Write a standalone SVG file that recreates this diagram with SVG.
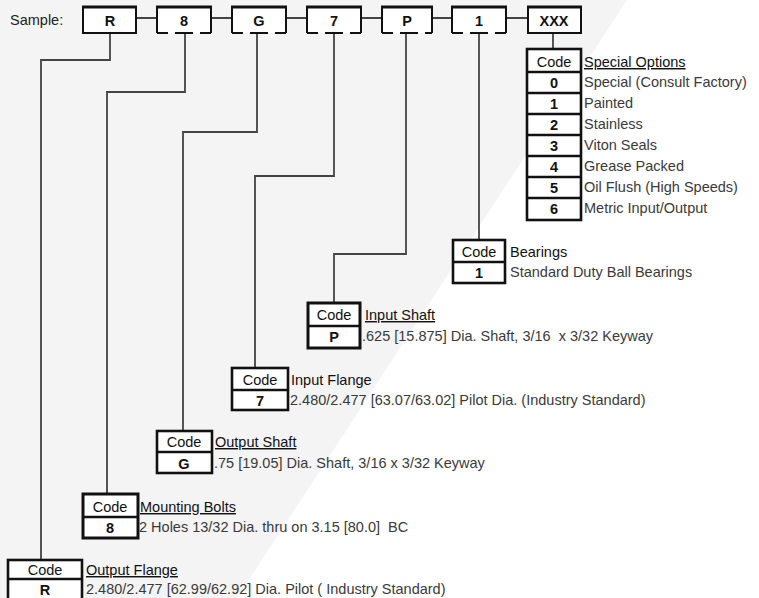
<svg xmlns="http://www.w3.org/2000/svg" width="759" height="598" viewBox="0 0 759 598">
<style>
.bg{fill:#f4f4f4}
.sb{fill:#fff;stroke:#111;stroke-width:2}
.tt{stroke:#111;stroke-width:3;fill:none}
.brk{stroke:#111;stroke-width:2;fill:none;stroke-dasharray:11 7 18 7 14}
.tb{fill:#fff;stroke:#111;stroke-width:2.6}
.dv{stroke:#111;stroke-width:2.6}
.cn{fill:none;stroke:#444;stroke-width:1.8}
text{font-family:"Liberation Sans",Arial,sans-serif;font-size:14.5px;fill:#3a3a3a;white-space:pre}
.k{fill:#111;font-weight:bold;font-size:14.5px;text-anchor:middle}
.c{fill:#111;font-size:14.5px;text-anchor:middle}
.h{fill:#111}
.u{fill:#111;text-decoration:underline}
</style>
<polygon class="bg" points="0,0 627,0 237,598 0,598"/>
<text x="10" y="25" style="fill:#222">Sample:</text>
<g id="connectors">
<path class="cn" d="M136,18H157M211,18H232M286,18H307M361,18H382M432,18H452M506,18H528"/>
<path class="cn" d="M110,33V60H41V560"/>
<path class="cn" d="M185,33V92H107V494"/>
<path class="cn" d="M257,33V132H183V431"/>
<path class="cn" d="M334,33V176H255V368"/>
<path class="cn" d="M406,33V254H334V303"/>
<path class="cn" d="M479,33V240"/>
<path class="cn" d="M553,33V49"/>
</g>
<g id="box-R"><rect class="sb" x="83" y="7" width="53" height="26"/><path class="tt" d="M82,7H137"/><text class="k" x="110" y="26">R</text></g>
<g id="box-8"><path class="sb" d="M157,33V7H211V33"/><path class="tt" d="M156,7H212"/><path class="brk" d="M157,33H211"/><text class="k" x="184" y="26">8</text></g>
<g id="box-G"><path class="sb" d="M232,33V7H286V33"/><path class="tt" d="M231,7H287"/><path class="brk" d="M232,33H286"/><text class="k" x="259" y="26">G</text></g>
<g id="box-7"><path class="sb" d="M307,33V7H361V33"/><path class="tt" d="M306,7H362"/><path class="brk" d="M307,33H361"/><text class="k" x="334" y="26">7</text></g>
<g id="box-P"><path class="sb" d="M382,33V7H432V33"/><path class="tt" d="M381,7H433"/><path class="brk" d="M382,33H432"/><text class="k" x="407" y="26">P</text></g>
<g id="box-1"><path class="sb" d="M452,33V7H506V33"/><path class="tt" d="M451,7H507"/><path class="brk" d="M452,33H506"/><text class="k" x="479" y="26">1</text></g>
<g id="box-XXX"><rect class="sb" x="528" y="7" width="53" height="26"/><path class="tt" d="M527,7H582"/><text class="k" x="554" y="26">XXX</text></g>

<g id="special-options">
<rect class="tb" x="527" y="49" width="54" height="171"/>
<path class="dv" d="M527,72H581M527,93H581M527,114H581M527,135H581M527,156H581M527,177H581M527,198H581"/>
<text class="c" x="554" y="67">Code</text>
<text class="k" x="554" y="88">0</text>
<text class="k" x="554" y="109">1</text>
<text class="k" x="554" y="130">2</text>
<text class="k" x="554" y="151">3</text>
<text class="k" x="554" y="172">4</text>
<text class="k" x="554" y="193">5</text>
<text class="k" x="554" y="214">6</text>
<text class="u" x="584" y="67">Special Options</text>
<text x="584" y="87">Special (Consult Factory)</text>
<text x="584" y="108">Painted</text>
<text x="584" y="129">Stainless</text>
<text x="584" y="150">Viton Seals</text>
<text x="584" y="171">Grease Packed</text>
<text x="584" y="192">Oil Flush (High Speeds)</text>
<text x="584" y="213">Metric Input/Output</text>
</g>

<g id="bearings">
<rect class="tb" x="453" y="240" width="52" height="43"/>
<path class="dv" d="M453,262H505"/>
<text class="c" x="479" y="257">Code</text>
<text class="k" x="479" y="278">1</text>
<text class="h" x="510" y="257">Bearings</text>
<text x="510" y="277">Standard Duty Ball Bearings</text>
</g>

<g id="input-shaft">
<rect class="tb" x="308" y="303" width="52" height="45" style="stroke-width:3"/>
<path class="dv" d="M308,326H360"/>
<text class="c" x="334" y="320">Code</text>
<text class="k" x="334" y="342">P</text>
<text class="u" x="365" y="320">Input Shaft</text>
<text x="362" y="341">.625 [15.875] Dia. Shaft, 3/16  x 3/32 Keyway</text>
</g>

<g id="input-flange">
<rect class="tb" x="232" y="368" width="56" height="42"/>
<path class="dv" d="M232,390H288"/>
<text class="c" x="260" y="385">Code</text>
<text class="k" x="260" y="406">7</text>
<text class="h" x="291" y="385">Input Flange</text>
<text x="290" y="405">2.480/2.477 [63.07/63.02] Pilot Dia. (Industry Standard)</text>
</g>

<g id="output-shaft">
<rect class="tb" x="157" y="431" width="55" height="42"/>
<path class="dv" d="M157,452H212"/>
<text class="c" x="184" y="447">Code</text>
<text class="k" x="184" y="469">G</text>
<text class="u" x="215" y="447">Output Shaft</text>
<text x="214" y="468">.75 [19.05] Dia. Shaft, 3/16 x 3/32 Keyway</text>
</g>

<g id="mounting-bolts">
<rect class="tb" x="83" y="494" width="55" height="44" style="stroke-width:3"/>
<path class="dv" d="M83,517H138"/>
<text class="c" x="110" y="512">Code</text>
<text class="k" x="110" y="533">8</text>
<text class="u" x="140" y="512">Mounting Bolts</text>
<text x="139" y="532">2 Holes 13/32 Dia. thru on 3.15 [80.0]  BC</text>
</g>

<g id="output-flange">
<rect class="tb" x="8" y="560" width="74" height="42"/>
<path class="dv" d="M8,579H82"/>
<text class="c" x="45" y="575">Code</text>
<text class="k" x="45" y="595">R</text>
<text class="u" x="86" y="575">Output Flange</text>
<text x="86" y="594">2.480/2.477 [62.99/62.92] Dia. Pilot ( Industry Standard)</text>
</g>
</svg>
